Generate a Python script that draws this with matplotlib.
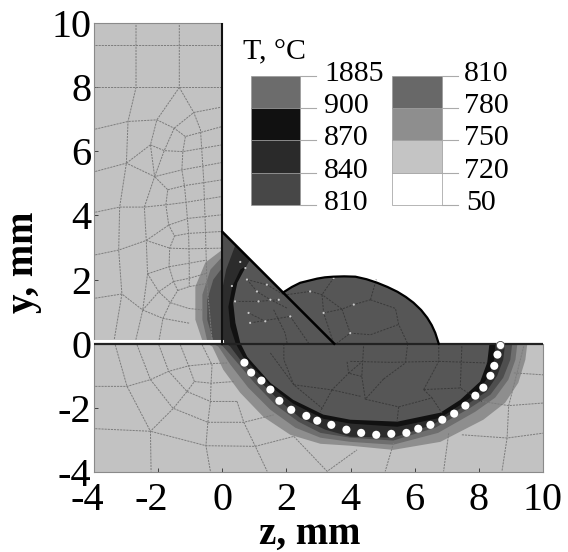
import matplotlib
matplotlib.use("Agg")
import matplotlib.pyplot as plt
from matplotlib.transforms import ScaledTranslation
import numpy as np

plt.rcParams["font.family"] = ["Liberation Serif", "DejaVu Sans"]
plt.rcParams["axes.unicode_minus"] = False

# temperature bands, outermost first: (z, y) outlines
band_750 = [(9.51, 0), (9.45, -.50), (9.23, -1.22), (8.82, -1.84), (8.14, -2.37), (6.80, -3.06), (5.33, -3.31),
            (3.99, -3.18), (3.06, -3.12), (2.12, -2.84), (1.28, -2.28), (.56, -1.53), (.03, -.81), (-.31, -.09),
            (-.62, .09), (-.84, .75), (-.84, 1.78), (-.53, 2.53), (0, 2.93), (0, 3.49), (3.49, 0)]
band_780 = [(9.20, 0), (9.14, -.5), (8.92, -1.12), (8.51, -1.68), (7.89, -2.12), (6.73, -2.78), (5.33, -3.15),
            (3.99, -3.06), (3.06, -2.93), (2.28, -2.62), (1.50, -2.06), (.81, -1.37), (.25, -.65), (-.12, -.09),
            (-.47, .09), (-.62, .75), (-.62, 1.53), (-.37, 2.31), (0, 2.71), (0, 3.49), (3.49, 0)]
band_810 = [(9.04, 0), (8.98, -.5), (8.76, -1.06), (8.36, -1.59), (7.73, -2.0), (6.64, -2.62), (5.33, -3.02),
            (3.99, -2.93), (3.06, -2.78), (2.37, -2.43), (1.65, -1.90), (1.0, -1.22), (.44, -.56), (.03, -.09),
            (-.28, .09), (-.47, .75), (-.47, 1.37), (-.28, 2.0), (0, 2.37), (0, 3.49), (3.49, 0)]
band_840 = [(8.82, 0), (8.76, -.5), (8.57, -1.0), (8.23, -1.50), (7.67, -1.87), (6.55, -2.53), (5.33, -2.93),
            (3.99, -2.90), (3.21, -2.68), (2.43, -2.31), (1.75, -1.75), (1.12, -1.12), (.56, -.5), (.25, -.09),
            (0, .09), (0, 1.7), (.12, 2.31), (.41, 3.08), (3.49, 0)]
band_870 = [(8.51, 0), (8.48, -.5), (8.33, -.97), (7.98, -1.50), (7.48, -1.87), (6.80, -2.31), (5.46, -2.59),
            (3.99, -2.49), (3.15, -2.34), (2.21, -1.87), (1.56, -1.37), (1.03, -.81), (.65, -.41), (.47, -.09),
            (.41, .03), (.25, .53), (.19, 1.15), (.31, 1.78), (.56, 2.31), (.94, 2.55), (3.49, 0)]
band_pool = [(8.33, 0), (8.26, -.59), (8.04, -1.18), (7.42, -1.75), (6.80, -2.15), (5.46, -2.43), (3.99, -2.37),
             (3.15, -2.21), (2.21, -1.75), (1.50, -1.22), (.78, -.41), (.56, .03), (.41, .65), (.34, 1.28),
             (.47, 1.90), (.72, 2.37), (.87, 2.62), (3.49, 0)]
bands = [band_750, band_780, band_810, band_840, band_870, band_pool]
band_greys = ["#8e8e8e", "#6e6e6e", "#4e4e4e", "#2c2c2c", "#111111", "#565656"]

cap_z = [1.90, 2.17, 2.43, 2.96, 3.20, 3.46, 3.80, 4.15, 4.50, 4.83, 5.15, 5.46, 5.72, 5.96, 6.20, 6.39, 6.53, 6.64, 6.75]
cap_y = [1.60, 1.77, 1.90, 2.03, 2.07, 2.09, 2.10, 2.09, 2.01, 1.90, 1.77, 1.62, 1.46, 1.28, 1.05, .81, .58, .34, 0]
diag_z = [0, 3.49]
diag_y = [3.49, 0]

dots_z = [.69, .90, 1.22, 1.50, 1.78, 2.15, 2.62, 2.96, 3.40, 3.87, 4.33, 4.80, 5.27, 5.74, 6.11, 6.49, 6.86,
          7.23, 7.58, 7.89, 8.14, 8.36, 8.48, 8.58, 8.67]
dots_y = [-.59, -.90, -1.15, -1.43, -1.78, -2.06, -2.25, -2.40, -2.53, -2.68, -2.78, -2.84, -2.81, -2.78, -2.65,
          -2.53, -2.37, -2.18, -1.93, -1.62, -1.37, -1.00, -.69, -.34, -.03]

# pale specks at mesh nodes inside the weld
speck_z = [.77, 1.08, 1.39, 1.50, .40, 1.13, 1.34, .82, .87, 1.76, 2.12, .72, .56, .30, 2.74, 3.16, 3.47, 4.10, 3.99]
speck_y = [2.0, 1.63, 1.84, 1.37, 1.32, 1.32, .70, .96, .65, 1.37, .85, 2.36, 2.55, 1.8, 1.63, .96, 2.05, 1.22, .33]

# finite element mesh lines
mesh_upper = [
    [(-3.96, 9.32), (-.01, 9.32)],
    [(-3.96, 7.99), (-.01, 7.99)],
    [(-2.69, 9.94), (-2.69, 7.99), (-2.94, 6.93), (-2.99, 5.63), (-3.20, 4.26), (-3.23, 2.92), (-3.13, 1.55), (-3.37, .12)],
    [(-1.34, 9.94), (-1.34, 7.99), (-2.04, 6.98), (-2.24, 6.20), (-2.11, 5.21), (-2.43, 4.26), (-2.37, 3.22), (-2.33, 2.18), (-2.48, 1.05), (-2.71, .06)],
    [(-1.34, 7.99), (-.89, 7.21), (-.68, 6.67), (-.58, 5.11), (-.53, 3.70), (-.48, 1.88), (-.32, .12)],
    [(-3.96, 6.69), (-2.94, 6.93), (-2.04, 6.98), (-1.50, 6.72), (-1.15, 6.46), (-.01, 6.77)],
    [(-1.50, 6.72), (-.89, 7.21), (-.01, 7.38)],
    [(-1.15, 6.46), (-1.23, 5.99), (-1.26, 5.42), (-1.18, 4.93), (-1.13, 4.41), (-1.05, 3.44), (-1.03, 2.51), (-1.03, 1.78)],
    [(-2.24, 6.20), (-1.81, 6.02), (-1.23, 5.99), (-.01, 6.20)],
    [(-1.50, 6.72), (-1.81, 6.02), (-2.11, 5.21), (-1.70, 4.80), (-1.76, 4.33), (-1.67, 3.70), (-1.49, 3.36), (-1.64, 2.98),
     (-1.66, 2.40), (-1.52, 1.94), (-1.39, 1.66), (-1.62, 1.28), (-1.85, .79), (-1.98, .06)],
    [(-3.96, 5.37), (-2.99, 5.63), (-2.11, 5.21), (-1.26, 5.42), (-.01, 5.65)],
    [(-2.99, 5.63), (-2.24, 6.20)],
    [(-1.70, 4.80), (-1.18, 4.93), (-.01, 5.11)],
    [(-3.96, 4.10), (-3.20, 4.26), (-2.43, 4.26), (-1.76, 4.33), (-1.13, 4.41), (-.01, 4.59)],
    [(-1.67, 3.70), (-1.05, 3.91), (-.01, 4.02)],
    [(-1.49, 3.36), (-1.05, 3.44), (-.01, 3.50)],
    [(-1.64, 2.98), (-1.03, 2.96), (-.01, 2.98)],
    [(-3.96, 2.77), (-3.23, 2.92), (-2.37, 3.22), (-1.67, 3.70)],
    [(-2.37, 3.22), (-1.64, 2.98)],
    [(-1.66, 2.40), (-1.03, 2.51), (-.48, 2.61)],
    [(-2.33, 2.18), (-1.66, 2.40)],
    [(-2.33, 2.18), (-1.98, 1.62), (-1.62, 1.28), (-1.05, 1.10), (-.58, 1.05)],
    [(-1.52, 1.94), (-1.98, 1.62), (-2.48, 1.05)],
    [(-1.39, 1.66), (-1.03, 1.78), (-.48, 1.88)],
    [(-1.52, 1.94), (-1.03, 2.04), (-.48, 2.20)],
    [(-3.96, 1.42), (-3.13, 1.55), (-2.48, 1.05), (-1.85, .79), (-1.03, .64)],
]
mesh_lower = [
    [(-3.34, -.03), (-2.97, -1.33), (-2.24, -2.73), (-2.22, -3.98)],
    [(-2.66, -.03), (-2.24, -1.12), (-1.54, -2.01), (-.45, -2.45), (-.51, -3.18), (-.37, -3.98)],
    [(-1.98, -.03), (-1.67, -.86), (-1.10, -1.49), (-1.52, -2.01), (-2.24, -2.73)],
    [(-1.31, -.03), (-1.05, -.69), (-.87, -1.18), (-1.10, -1.49)],
    [(-.63, -.03), (-.32, -.66), (-.35, -1.23), (-.37, -1.80), (-.45, -2.45)],
    [(-3.96, -1.33), (-2.97, -1.33), (-2.24, -1.12), (-1.67, -.86), (-1.05, -.69), (-.32, -.62), (.15, -.60)],
    [(-.87, -1.18), (-.35, -1.23), (.36, -1.18)],
    [(-1.10, -1.49), (-.37, -1.80), (.46, -1.80)],
    [(-.45, -2.45), (.67, -2.45), (1.60, -2.22)],
    [(-3.96, -2.65), (-2.24, -2.73), (-.51, -3.18), (1.03, -3.20), (2.23, -2.89)],
    [(.46, -1.80), (.67, -2.45), (1.03, -3.20), (1.40, -3.98)],
    [(2.23, -2.89), (3.27, -3.98), (4.20, -3.31)],
    [(5.34, -3.10), (5.08, -3.98)],
    [(7.06, -2.79), (6.90, -3.98)],
    [(7.47, -2.84), (8.88, -2.94), (10.0, -2.79)],
    [(9.40, -.08), (8.93, -1.93), (8.88, -2.94), (8.72, -3.98)],
    [(8.10, -1.80), (8.93, -1.93), (10.0, -1.85)],
    [(9.09, -.91), (10.0, -.97)],
]
mesh_pool = [
    [(3.99, -.55), (5.24, -.58), (6.75, -.55), (8.25, -.60)],
    [(4.46, -1.73), (4.35, -1.02), (4.41, 0)],
    [(5.50, -1.97), (5.45, -2.42)],
    [(5.50, -1.97), (6.54, -1.69), (6.85, -2.16)],
    [(5.03, -1.10), (5.71, -.60), (5.78, 0)],
    [(5.03, -1.10), (4.46, -1.73), (5.50, -1.97)],
    [(6.28, -1.43), (6.75, -.55), (6.75, 0)],
    [(6.28, -1.43), (6.54, -1.69)],
    [(6.28, -1.43), (7.42, -1.38), (8.10, -1.80)],
    [(7.47, -.08), (7.42, -1.38)],
    [(1.50, -.29), (2.23, -1.28), (3.11, -2.01)],
    [(2.23, -1.28), (1.92, -.50), (1.92, 0)],
    [(2.23, -1.28), (3.42, -1.44), (3.94, -.92), (3.89, -.55)],
    [(3.42, -1.44), (3.06, -2.11)],
    [(3.94, -.92), (4.31, -.60)],
    [(3.42, -1.44), (4.31, -1.64)],
    [(4.35, -1.02), (3.94, -.92)],
    [(.77, 2.0), (1.39, 1.84), (1.91, 1.53)],
    [(.40, 1.32), (1.13, 1.32), (1.76, 1.37)],
    [(.82, .96), (1.34, .70)],
    [(.87, .65), (2.12, .85), (2.69, .02)],
    [(.77, 2.0), (1.08, 1.63), (1.50, 1.37), (2.02, 1.11)],
    [(2.02, .02), (1.96, .33), (1.60, 1.06)],
    [(2.02, 1.53), (2.74, 1.63), (3.11, 1.53), (3.73, 1.08), (4.10, 1.22), (4.62, 1.37)],
    [(3.16, .96), (3.73, 1.08)],
    [(3.47, 2.05), (3.11, 1.53), (3.16, .96), (3.47, .02)],
    [(3.73, 1.08), (3.99, .33), (3.58, .02)],
    [(3.99, .33), (4.62, .28), (5.50, .60)],
    [(4.62, 1.37), (5.40, 1.10), (5.50, .60), (5.78, 0)],
    [(4.62, 1.37), (4.80, 2.0)],
]

# legend of the temperature scale
left_levels = ["1885", "900", "870", "840", "810"]
left_greys = ["#6c6c6c", "#111111", "#2a2a2a", "#474747"]
right_levels = ["810", "780", "750", "720", "50"]
right_greys = ["#686868", "#8e8e8e", "#c4c4c4", "#ffffff"]
legend_edges = [8.36, 7.35, 6.35, 5.33, 4.34]

z_ticks = [-4, -2, 0, 2, 4, 6, 8, 10]
y_ticks = [-4, -2, 0, 2, 4, 6, 8, 10]


def main():
    fig = plt.figure(figsize=(5.68, 5.52), dpi=100)
    ax = fig.add_axes([94 / 568, 80 / 552, 449 / 568, 449 / 552])
    ax.set_xlim(-4, 10)
    ax.set_ylim(-4, 10)

    # base material
    ax.fill([-4, 0, 0, -4], [0, 0, 10, 10], color="#c2c2c2", lw=0, zorder=1)
    ax.fill([-4, 10, 10, -4], [-4, -4, 0, 0], color="#c2c2c2", lw=0, zorder=1)

    for outline, grey in zip(bands, band_greys):
        zs, ys = zip(*outline)
        ax.fill(zs, ys, color=grey, lw=0, zorder=2)

    # cap above the plate
    ax.fill(cap_z + [3.49], cap_y + [0], color=band_greys[-1], lw=0, zorder=2)

    for line in mesh_upper + mesh_lower:
        zs, ys = zip(*line)
        ax.plot(zs, ys, color="#7c7c7c", lw=0.7, ls=(0, (2.2, 1)), zorder=3)
    for line in mesh_pool:
        zs, ys = zip(*line)
        ax.plot(zs, ys, color="#3a3a3a", lw=0.7, ls=(0, (2.2, 1.3)), zorder=3)
    ax.scatter(speck_z, speck_y, s=2.5, color="#c8c8c8", edgecolors="none", zorder=3)

    ax.plot([-4, 0], [.07, .07], color="white", lw=2.2, zorder=4)
    ax.plot([-4, 10], [0, 0], color="#222222", lw=1.6, zorder=5)
    ax.plot([0, 0], [0, 10], color="#111111", lw=1.5, zorder=5)
    ax.plot(diag_z, diag_y, color="black", lw=1.8, zorder=5)
    ax.plot(cap_z, cap_y, color="black", lw=1.6, zorder=5)

    ax.scatter(dots_z, dots_y, s=34, color="white", edgecolors="none", zorder=6)
    ax.scatter(dots_z[-1:], dots_y[-1:], s=34, color="white", edgecolors="#444444", linewidths=0.6, zorder=6)

    # legend columns
    for x0, x1, x2, greys, levels, xt in [(.90, 2.43, 2.93, left_greys, left_levels, 3.18),
                                          (5.30, 6.84, 7.34, right_greys, right_levels, 7.53)]:
        for i, grey in enumerate(greys):
            ax.bar(x0, legend_edges[i + 1] - legend_edges[i], bottom=legend_edges[i], width=x1 - x0, align="edge",
                   color=grey, edgecolor="#999999", linewidth=0.5, zorder=3)
        for edge, level in zip(legend_edges, levels):
            ax.plot([x1, x2], [edge, edge], color="#aaaaaa", lw=0.8, zorder=3)
            dx = 0.06 if level == "50" else 0
            ax.text(xt + dx, edge + .05, level, fontsize=21.5, va="center", ha="left", zorder=4)
    ax.text(.66, 9.08, "T, °C", fontsize=21.5, va="center", ha="left", zorder=4)

    for side in ["top", "right"]:
        ax.spines[side].set_visible(False)
    ax.spines["left"].set_color("#8a8a8a")
    ax.spines["bottom"].set_color("#8a8a8a")
    ax.plot([-4, 0], [10, 10], color="#8a8a8a", lw=0.8, clip_on=False, zorder=2)
    ax.plot([10, 10], [-4, 0], color="#8a8a8a", lw=0.8, clip_on=False, zorder=2)

    ax.set_xticks(z_ticks)
    ax.set_yticks(y_ticks)
    ax.tick_params(direction="in", length=3, width=0.7, color="#444444", labelsize=29)
    ax.tick_params(axis="x", pad=7)
    ax.tick_params(axis="y", pad=2)
    # the minus sign hangs out to the left of the tick in the picture
    shift = ScaledTranslation(-5 / 72, 0, fig.dpi_scale_trans)
    for value, label in zip(z_ticks, ax.get_xticklabels()):
        if value < 0:
            label.set_transform(label.get_transform() + shift)

    ax.set_xlabel("z, mm", fontsize=28, fontweight="bold")
    ax.set_ylabel("y, mm", fontsize=28, fontweight="bold")
    ax.xaxis.set_label_coords((310 - 94) / 449, -44 / 449)
    ax.yaxis.set_label_coords(-52 / 449, (472 - 262) / 449)

    fig.savefig("out.png", dpi=100)


if __name__ == "__main__":
    main()
